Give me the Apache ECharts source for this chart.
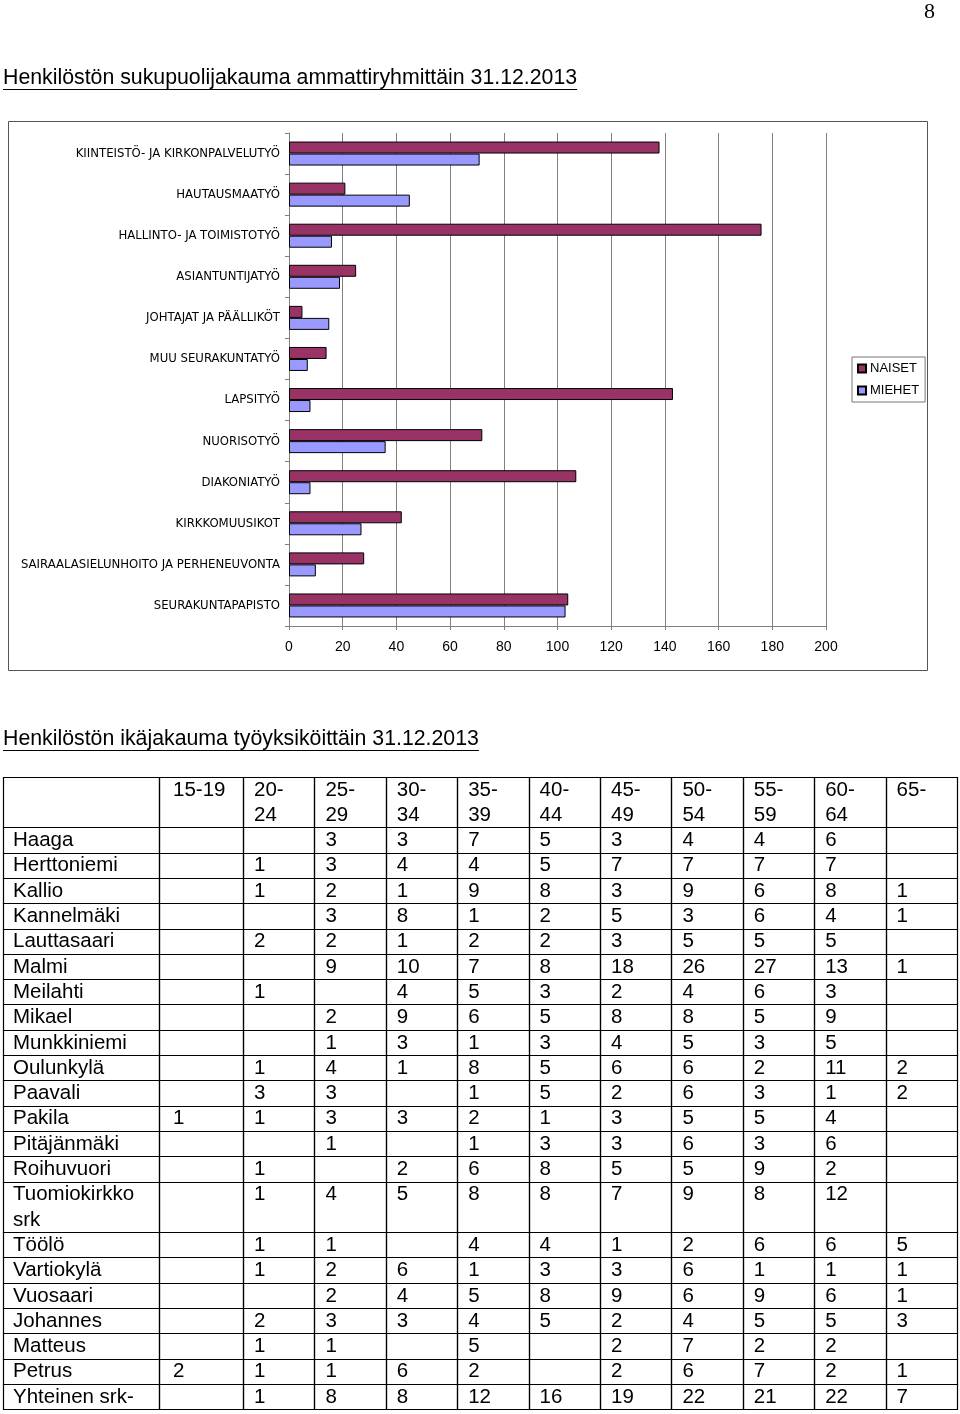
<!DOCTYPE html>
<html><head><meta charset="utf-8">
<script src="https://cdn.jsdelivr.net/npm/echarts@6/dist/echarts.min.js"></script>
<style>html,body{margin:0;padding:0;background:#fff}#c{width:960px;height:1414px}</style>
</head><body><div id="c"></div>
<script>
// ---------------- DATA ----------------
const pageNumber = '8';
const title1 = 'Henkilöstön sukupuolijakauma ammattiryhmittäin 31.12.2013';
const title2 = 'Henkilöstön ikäjakauma työyksiköittäin 31.12.2013';

const jobGroups = [
  'KIINTEISTÖ- JA KIRKONPALVELUTYÖ', 'HAUTAUSMAATYÖ', 'HALLINTO- JA TOIMISTOTYÖ',
  'ASIANTUNTIJATYÖ', 'JOHTAJAT JA PÄÄLLIKÖT', 'MUU SEURAKUNTATYÖ', 'LAPSITYÖ',
  'NUORISOTYÖ', 'DIAKONIATYÖ', 'KIRKKOMUUSIKOT', 'SAIRAALASIELUNHOITO JA PERHENEUVONTA',
  'SEURAKUNTAPAPISTO'
];
const naiset = [138, 21, 176, 25, 5, 14, 143, 72, 107, 42, 28, 104];
const miehet = [71, 45, 16, 19, 15, 7, 8, 36, 8, 27, 10, 103];
const seriesNames = ['NAISET', 'MIEHET'];
const xMin = 0, xMax = 200, xInterval = 20;

const ageGroups = ['15-19', '20-24', '25-29', '30-34', '35-39', '40-44', '45-49', '50-54', '55-59', '60-64', '65-'];
const units = ['Haaga', 'Herttoniemi', 'Kallio', 'Kannelmäki', 'Lauttasaari', 'Malmi', 'Meilahti',
  'Mikael', 'Munkkiniemi', 'Oulunkylä', 'Paavali', 'Pakila', 'Pitäjänmäki', 'Roihuvuori',
  'Tuomiokirkko srk', 'Töölö', 'Vartiokylä', 'Vuosaari', 'Johannes', 'Matteus', 'Petrus', 'Yhteinen srk-'];
const counts = [
  [null, null, 3, 3, 7, 5, 3, 4, 4, 6, null],
  [null, 1, 3, 4, 4, 5, 7, 7, 7, 7, null],
  [null, 1, 2, 1, 9, 8, 3, 9, 6, 8, 1],
  [null, null, 3, 8, 1, 2, 5, 3, 6, 4, 1],
  [null, 2, 2, 1, 2, 2, 3, 5, 5, 5, null],
  [null, null, 9, 10, 7, 8, 18, 26, 27, 13, 1],
  [null, 1, null, 4, 5, 3, 2, 4, 6, 3, null],
  [null, null, 2, 9, 6, 5, 8, 8, 5, 9, null],
  [null, null, 1, 3, 1, 3, 4, 5, 3, 5, null],
  [null, 1, 4, 1, 8, 5, 6, 6, 2, 11, 2],
  [null, 3, 3, null, 1, 5, 2, 6, 3, 1, 2],
  [1, 1, 3, 3, 2, 1, 3, 5, 5, 4, null],
  [null, null, 1, null, 1, 3, 3, 6, 3, 6, null],
  [null, 1, null, 2, 6, 8, 5, 5, 9, 2, null],
  [null, 1, 4, 5, 8, 8, 7, 9, 8, 12, null],
  [null, 1, 1, null, 4, 4, 1, 2, 6, 6, 5],
  [null, 1, 2, 6, 1, 3, 3, 6, 1, 1, 1],
  [null, null, 2, 4, 5, 8, 9, 6, 9, 6, 1],
  [null, 2, 3, 3, 4, 5, 2, 4, 5, 5, 3],
  [null, 1, 1, null, 5, null, 2, 7, 2, 2, null],
  [2, 1, 1, 6, 2, null, 2, 6, 7, 2, 1],
  [null, 1, 8, 8, 12, 16, 19, 22, 21, 22, 7]
];

// ---------------- LAYOUT / STYLE ----------------
const FONT = '"Liberation Sans", Arial, Helvetica, sans-serif';
const tableFontSize = 20.5;
const colW = [156, 84, 71.4, 71.4, 71.4, 71.4, 71.4, 71.4, 71.4, 71.4, 71.4, 71.4];
const colPad = [10, 14, 11, 11, 11, 11, 11, 11, 11, 11, 11, 11];
const padRight = 12;
const tableLeft = 3, tableTop = 776.7, lineH = 25.3;

const mctx = document.createElement('canvas').getContext('2d');
function wrap(text, maxW, font) {
  mctx.font = font;
  const tokens = String(text).split(/(?<=[ \-])/);
  const lines = [];
  let cur = '';
  tokens.forEach(t => {
    const test = cur + t;
    if (cur && mctx.measureText(test.trimEnd()).width > maxW) { lines.push(cur.trimEnd()); cur = t; }
    else cur = test;
  });
  if (cur) lines.push(cur.trimEnd());
  return lines.join('\n');
}
const tFont = tableFontSize + 'px ' + FONT;
function cellText(v, c) {
  if (v === null || v === undefined || v === '') return '';
  return wrap(v, colW[c] - colPad[c] - padRight, tFont);
}
const tableRows = [];
let lineCursor = 0;
function addRow(cells) {
  const texts = cells.map((v, c) => cellText(v, c));
  const lines = Math.max(1, ...texts.map(t => t ? t.split('\n').length : 1));
  tableRows.push({ texts, start: lineCursor, lines });
  lineCursor += lines;
}
addRow([''].concat(ageGroups));
units.forEach((u, i) => addRow([u].concat(counts[i])));
const totalLines = lineCursor;
const totalW = colW.reduce((a, b) => a + b, 0);

function renderRow(params, api) {
  const row = tableRows[api.value(2)];
  const px = api.size([0, 1])[1];
  const children = [];
  let x = 0;
  row.texts.forEach((txt, c) => {
    const p0 = api.coord([x, row.start]);
    const p1 = api.coord([x + colW[c], row.start + row.lines]);
    children.push({
      type: 'rect', silent: true,
      shape: { x: Math.round(p0[0]) + 0.5, y: Math.round(p0[1]) + 0.5, width: Math.round(p1[0]) - Math.round(p0[0]), height: Math.round(p1[1]) - Math.round(p0[1]) },
      style: { fill: null, stroke: '#000', lineWidth: 1.2 }
    });
    if (txt) children.push({
      type: 'text', silent: true, x: p0[0] + colPad[c], y: p0[1] + 0.5,
      style: { text: txt, font: tFont, fill: '#000', lineHeight: px, verticalAlign: 'top', align: 'left' }
    });
    x += colW[c];
  });
  return { type: 'group', children };
}

// titles with underline
function titleGraphic(text, x, yMid, size) {
  const f = size + 'px ' + FONT;
  mctx.font = f;
  const w = mctx.measureText(text).width;
  return [
    { type: 'text', left: x, top: yMid - size * 0.5, style: { text, font: f, fill: '#000' } },
    { type: 'line', shape: { x1: x, y1: yMid + 11.5, x2: x + w, y2: yMid + 11.5 }, style: { stroke: '#000', lineWidth: 1 } }
  ];
}

const chart = echarts.init(document.getElementById('c'), null, { renderer: 'canvas' });
chart.setOption({
  animation: false,
  backgroundColor: '#fff',
  textStyle: { fontFamily: FONT },
  graphic: [
    { type: 'text', left: 924, top: 1, style: { text: pageNumber, font: '22px "Liberation Serif", "Times New Roman", serif', fill: '#000' } },
    ...titleGraphic(title1, 3, 78, 21.3),
    ...titleGraphic(title2, 3, 739, 21.3),
    { type: 'rect', shape: { x: 8.5, y: 121.5, width: 919, height: 549 }, style: { fill: null, stroke: '#555', lineWidth: 1 }, z: -1 }
  ],
  legend: {
    data: seriesNames,
    orient: 'vertical',
    left: 852, top: 357,
    padding: [5, 6, 5, 5],
    itemGap: 9,
    itemWidth: 8, itemHeight: 8,
    icon: 'rect',
    borderColor: '#777', borderWidth: 1,
    textStyle: { fontSize: 13, color: '#000', fontFamily: FONT, padding: [0, 0, 0, -1] }
  },
  grid: [
    { left: 289, top: 133, width: 537, height: 493, containLabel: false },
    { left: tableLeft, top: tableTop, width: totalW, height: totalLines * lineH }
  ],
  xAxis: [
    {
      gridIndex: 0, type: 'value', min: xMin, max: xMax, interval: xInterval,
      axisLine: { show: true, lineStyle: { color: '#808080' } },
      axisTick: { show: true, length: 4, lineStyle: { color: '#808080' } },
      axisLabel: { fontSize: 14, color: '#000', margin: 14, fontFamily: FONT },
      splitLine: { show: true, lineStyle: { color: '#808080', width: 1 } }
    },
    { gridIndex: 1, type: 'value', min: 0, max: totalW, show: false, splitLine: { show: false } }
  ],
  yAxis: [
    {
      gridIndex: 0, type: 'category', data: jobGroups, inverse: true,
      axisLine: { show: true, lineStyle: { color: '#808080' } },
      axisTick: { show: true, length: 4, lineStyle: { color: '#808080' } },
      axisLabel: { fontSize: 13, color: '#000', margin: 9, fontFamily: '"Liberation Sans Narrow", "DejaVu Sans Condensed", sans-serif' },
      splitLine: { show: false }
    },
    { gridIndex: 1, type: 'value', min: 0, max: totalLines, inverse: true, show: false, splitLine: { show: false } }
  ],
  series: [
    {
      name: seriesNames[0], type: 'bar', xAxisIndex: 0, yAxisIndex: 0, data: naiset,
      barWidth: 12, barGap: '0%',
      itemStyle: { color: '#993366', borderColor: '#000', borderWidth: 1 }
    },
    {
      name: seriesNames[1], type: 'bar', xAxisIndex: 0, yAxisIndex: 0, data: miehet,
      barWidth: 12, barGap: '0%',
      itemStyle: { color: '#9999FF', borderColor: '#000', borderWidth: 1 }
    },
    {
      type: 'custom', xAxisIndex: 1, yAxisIndex: 1, clip: false, silent: true,
      renderItem: renderRow,
      encode: { x: 0, y: 1 },
      data: tableRows.map((r, i) => [0, r.start, i])
    }
  ]
});
</script>
</body></html>
